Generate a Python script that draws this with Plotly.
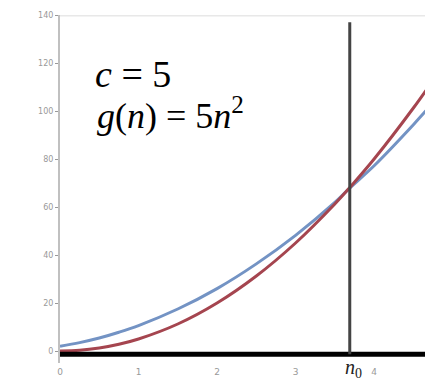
import plotly.graph_objects as go

# data
n_vals = [0, 0.25, 0.5, 0.75, 1, 1.5, 2, 2.5, 3, 3.5, 3.69, 4, 4.5, 4.75]
g_vals = [0, 0.3, 1.25, 2.8, 5, 11.25, 20, 31.25, 45, 61.25, 68.1, 80, 101.25, 112.8]   # red, g(n)=5n^2
f_vals = [2, 3.5, 5.4, 7.8, 10.6, 17.5, 26, 36.3, 48.2, 61.9, 67.9, 77.2, 94.3, 103.4]  # blue, f(n)
n0 = 3.69
x_ticks = [0, 1, 2, 3, 4]
y_ticks = [0, 20, 40, 60, 80, 100, 120, 140]

fig = go.Figure()
fig.add_trace(go.Scatter(x=n_vals, y=f_vals, mode="lines", line=dict(color="#7393c4", width=3, shape="spline"), showlegend=False))
fig.add_trace(go.Scatter(x=n_vals, y=g_vals, mode="lines", line=dict(color="#a5454f", width=3, shape="spline"), showlegend=False))

# top light grid line
fig.add_shape(type="line", xref="paper", x0=0, x1=1, yref="y", y0=140, y1=140, line=dict(color="#e8e8e8", width=3), layer="below")
# thick black baseline
fig.add_shape(type="line", xref="paper", x0=0, x1=1, yref="y", y0=-1.4, y1=-1.4, line=dict(color="black", width=5))
# vertical n0 line
fig.add_shape(type="line", x0=n0, x1=n0, yref="y", y0=-1.4, y1=137, line=dict(color="#444444", width=3))

fig.add_annotation(x=0.088, y=0.830, xref="paper", yref="paper", xanchor="left", yanchor="middle",
                   text="<i>c</i> = 5", showarrow=False, font=dict(family="Liberation Serif", size=38, color="black"))
fig.add_annotation(x=0.094, y=0.718, xref="paper", yref="paper", xanchor="left", yanchor="middle",
                   text="<i>g</i>(<i>n</i>) = 5<i>n</i><sup>2</sup>", showarrow=False, font=dict(family="Liberation Serif", size=36, color="black"))
fig.add_annotation(x=3.74, y=0.026, xref="x", yref="paper", xanchor="center", yanchor="top",
                   text="<i>n</i><sub>0</sub>", showarrow=False, font=dict(family="Liberation Serif", size=20, color="#222222"))

fig.update_layout(
    width=425, height=374,
    margin=dict(l=52, r=0, t=7, b=19),
    paper_bgcolor="white", plot_bgcolor="white",
    xaxis=dict(range=[0, 4.75], tickvals=x_ticks, showgrid=False, zeroline=False, showline=False,
               tickfont=dict(size=9, color="#999999", family="DejaVu Sans"), ticks="", ticklabelstandoff=2),
    yaxis=dict(range=[-5, 140], tickvals=y_ticks, showgrid=False, zeroline=False, showline=True,
               linecolor="#c0c0c0", linewidth=2, ticks="outside", ticklen=3, tickcolor="#999999",
               tickfont=dict(size=8, color="#999999", family="DejaVu Sans")),
)
fig.write_html("out.html")
